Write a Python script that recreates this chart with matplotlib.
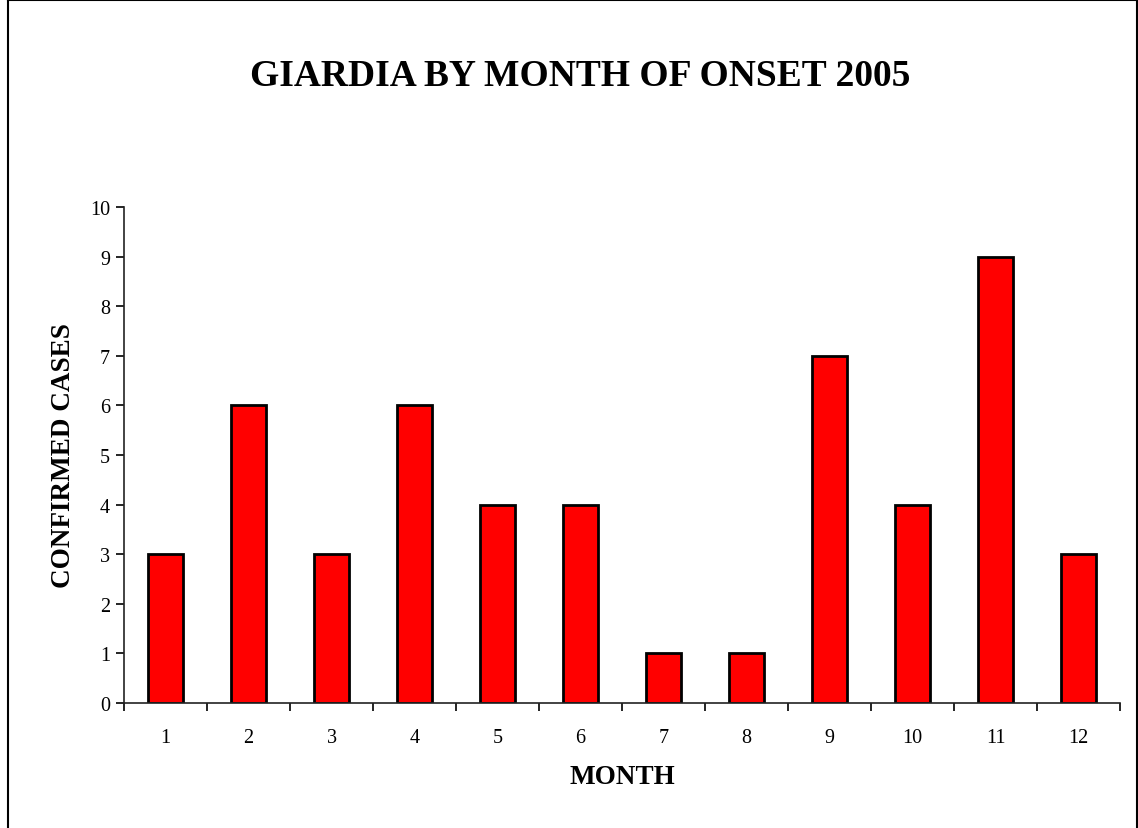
import matplotlib.pyplot as plt
from matplotlib.lines import Line2D

months = ['1', '2', '3', '4', '5', '6', '7', '8', '9', '10', '11', '12']
cases = [3, 6, 3, 6, 4, 4, 1, 1, 7, 4, 9, 3]

plt.rcParams['font.family'] = ['Liberation Serif', 'DejaVu Serif']

fig = plt.figure(figsize=(11.38, 8.29), dpi=100)
ax = fig.add_axes([124 / 1138, 1 - 704 / 829, (1120 - 124) / 1138, (704 - 208) / 829])

x = range(len(months))
ax.bar(x, cases, width=0.41, color='#ff0000', edgecolor='black', linewidth=2)

ax.set_xlim(-0.5, len(months) - 0.5)
ax.set_ylim(0, 10)
ax.set_yticks(range(0, 11))
ax.set_xticks([i - 0.5 for i in range(len(months) + 1)])
ax.set_xticklabels([])
ax.set_xticks(list(x), minor=True)
ax.set_xticklabels(months, minor=True)
ax.tick_params(axis='x', which='minor', length=0, pad=18, labelsize=14.5)
ax.tick_params(axis='x', which='major', length=6, direction='out', width=1.2)
ax.tick_params(axis='y', length=6, direction='out', labelsize=14.5, pad=4, width=1.2)

for s in ['top', 'right']:
    ax.spines[s].set_visible(False)
for s in ['left', 'bottom']:
    ax.spines[s].set_color('#222222')
    ax.spines[s].set_linewidth(1.2)

ax.set_xlabel('MONTH', fontsize=19.5, fontweight='bold', labelpad=12)
ax.set_ylabel('CONFIRMED CASES', fontsize=19.5, fontweight='bold', labelpad=10)
fig.text(580 / 1138, 1 - 77 / 829, 'GIARDIA BY MONTH OF ONSET 2005',
         ha='center', va='center', fontsize=27, fontweight='bold')

# outer frame: left, top and right edges only
l, r, t = 8 / 1138, 1136.5 / 1138, 1 - 1 / 829
for xs, ys in [([l, l], [0, t]), ([l, r], [t, t]), ([r, r], [t, 0])]:
    fig.add_artist(Line2D(xs, ys, transform=fig.transFigure, color='black', linewidth=1.5))

fig.savefig('out.png', dpi=100)
